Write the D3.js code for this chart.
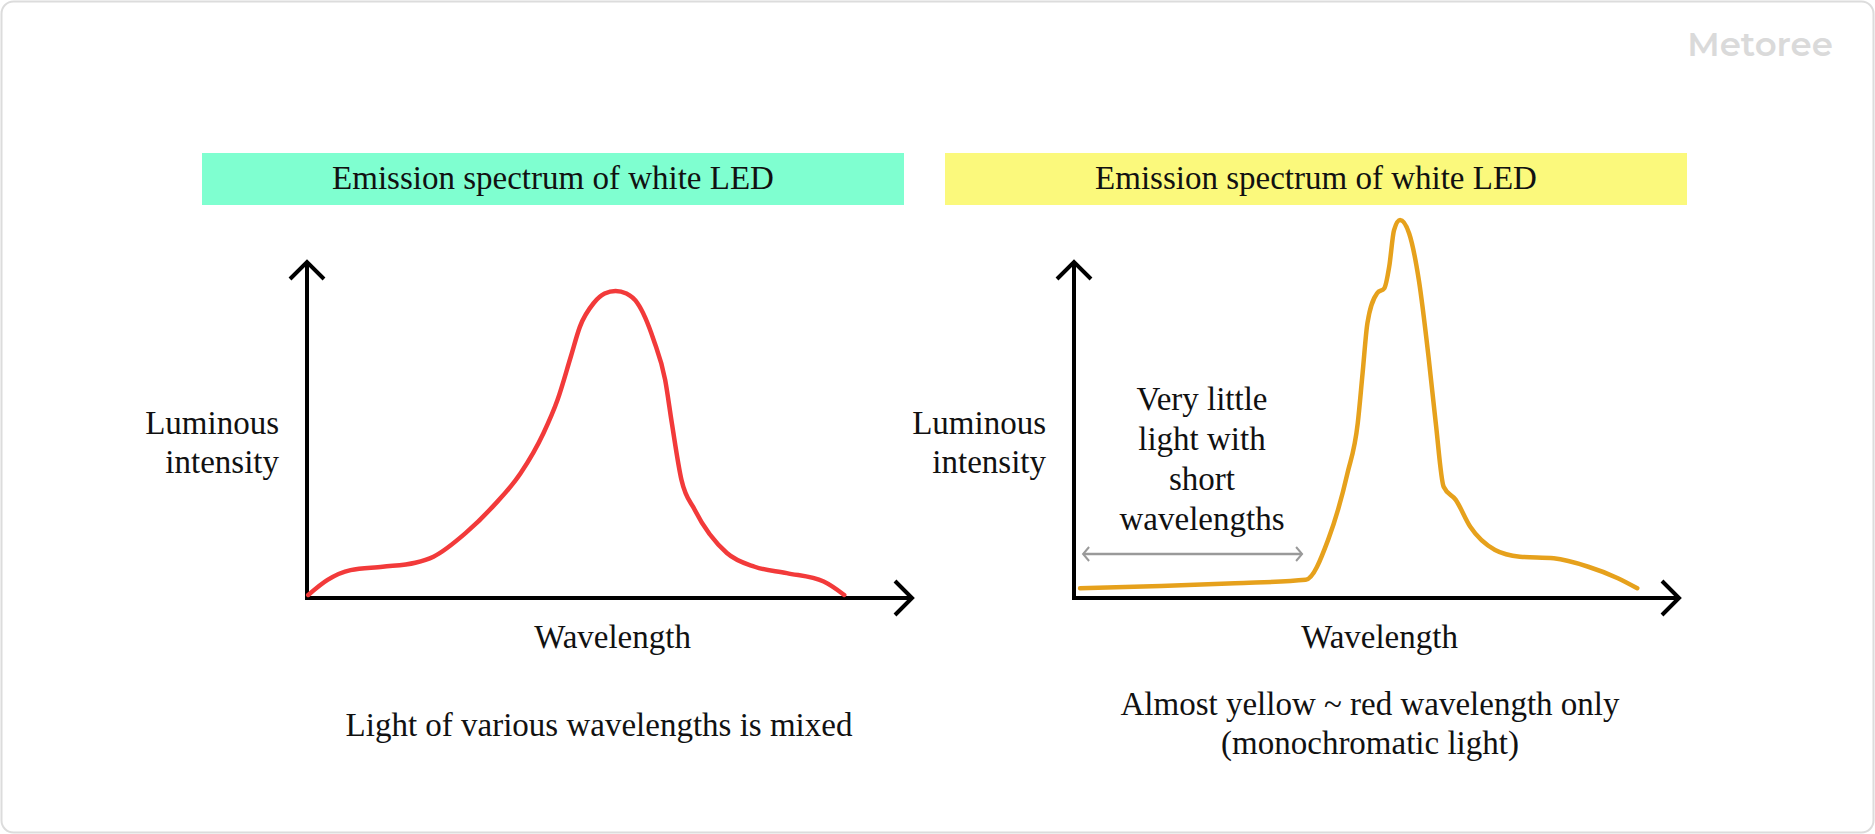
<!DOCTYPE html>
<html>
<head>
<meta charset="utf-8">
<script src="https://cdn.jsdelivr.net/npm/d3@7"></script>
<style>
  body { margin: 0; background: #fff; }
  svg { display: block; }
  text { font-family: "Liberation Serif", "Times New Roman", serif; fill: #111; }
</style>
</head>
<body>
<svg id="svg-board"></svg>
<script>
// panel headers and captions
const panelTitles = ["Emission spectrum of white LED", "Emission spectrum of white LED"];
const axisYLabel = ["Luminous", "intensity"];
const axisXLabel = "Wavelength";
const captionsLeft = ["Light of various wavelengths is mixed"];
const captionsRight = ["Almost yellow ~ red wavelength only", "(monochromatic light)"];
const noteRight = ["Very little", "light with", "short", "wavelengths"];

// curves (x: % of axis length, y: % of axis height)
const waveLeft = [0.2, 3.4, 7.2, 12.5, 17.9, 20.9, 26.2, 30.7, 35.3, 39.1, 41.4, 43.6, 45.1, 47.4,
                  49.2, 51.0, 52.8, 54.6, 57.3, 59.2, 60.3, 61.9, 64.1, 69.4, 74.0, 79.3, 85.4, 88.8];
const intensityLeft = [0.9, 5.4, 8.3, 9.3, 10.5, 12.3, 19.3, 27.2, 37.1, 49.1, 58.9, 71.8, 80.7, 87.8,
                       90.6, 91.4, 90.6, 87.8, 76.8, 64.9, 52.1, 35.1, 26.2, 13.4, 9.3, 7.4, 4.9, 0.9];

const waveRight = [1.0, 14.4, 26.6, 38.3, 42.0, 45.2, 46.9, 47.7, 48.5, 50.1, 51.3, 52.1, 52.9, 53.9,
                   55.4, 57.0, 58.6, 59.8, 61.1, 63.1, 65.5, 69.6, 73.7, 79.3, 85.0, 89.9, 93.1];
const intensityRight = [2.9, 3.6, 4.4, 5.4, 17.3, 37.1, 52.0, 66.9, 81.8, 90.7, 92.2, 98.6, 109.5, 112.5,
                        108.5, 94.6, 71.8, 52.0, 33.1, 29.2, 21.2, 14.3, 12.3, 11.8, 9.3, 5.9, 2.9];

// the "short wavelengths" span on the right panel
const shortSpan = [1.5, 37.7];
const shortSpanLevel = 13.1;

const boardWidth = 1875;
const boardHeight = 834;

let svgBoard = d3.select("#svg-board")
    .attr("width", boardWidth)
    .attr("height", boardHeight);

// outer frame
svgBoard.append("rect")
    .attr("x", 1.5).attr("y", 1.5)
    .attr("width", boardWidth - 3).attr("height", boardHeight - 3)
    .attr("rx", 12)
    .attr("fill", "#fff")
    .attr("stroke", "#dcdcdc")
    .attr("stroke-width", 2);

svgBoard.append("text")
    .attr("x", 1760).attr("y", 56)
    .attr("text-anchor", "middle")
    .style("font-family", "Montserrat, 'Open Sans', sans-serif")
    .style("font-weight", 600)
    .style("font-size", "34px")
    .style("fill", "#dadada")
    .text("Metoree");

function drawArrowHead(g, x, y, dir, size, color, width) {
    // open chevron; dir: "up" or "right"
    let pts;
    if (dir === "up") pts = [[x - size, y + size], [x, y], [x + size, y + size]];
    else pts = [[x - size, y - size], [x, y], [x - size, y + size]];
    g.append("path")
        .attr("d", d3.line()(pts))
        .attr("fill", "none")
        .attr("stroke", color)
        .attr("stroke-width", width)
        .attr("stroke-linejoin", "miter");
}

function buildPanel(offset, opts) {
    let xScale = d3.scaleLinear().domain([0, 100]).range([307 + offset, 912 + offset]);
    let yScale = d3.scaleLinear().domain([0, 100]).range([598, 262]);
    let g = svgBoard.append("g");

    // header bar
    g.append("rect")
        .attr("x", opts.barX[0]).attr("y", 153)
        .attr("width", opts.barX[1] - opts.barX[0]).attr("height", 52)
        .attr("fill", opts.barColor);
    g.append("text")
        .attr("x", (opts.barX[0] + opts.barX[1]) / 2).attr("y", 189)
        .attr("text-anchor", "middle")
        .style("font-size", "33px")
        .text(opts.title);

    // axes
    const [x0, x1] = xScale.range();
    const [y0, y1] = yScale.range();
    g.append("path")
        .attr("d", d3.line()([[x0, y1 + 2], [x0, y0], [x1 - 2, y0]]))
        .attr("fill", "none")
        .attr("stroke", "#000")
        .attr("stroke-width", 4);
    drawArrowHead(g, x0, y1, "up", 17, "#000", 4);
    drawArrowHead(g, x1, y0, "right", 17, "#000", 4);

    // axis labels
    g.selectAll(".ylab")
        .data(axisYLabel)
        .enter().append("text")
        .attr("class", "ylab")
        .attr("x", x0 - 28)
        .attr("y", (d, i) => 434 + i * 39)
        .attr("text-anchor", "end")
        .style("font-size", "33px")
        .text(d => d);
    g.append("text")
        .attr("x", xScale(50.5)).attr("y", 648)
        .attr("text-anchor", "middle")
        .style("font-size", "33px")
        .text(axisXLabel);

    // curve
    const pts = opts.wave.map((w, i) => [w, opts.intensity[i]]);
    g.append("path")
        .datum(pts)
        .attr("d", d3.line()
            .x(d => xScale(d[0]))
            .y(d => yScale(d[1]))
            .curve(d3.curveMonotoneX))
        .attr("fill", "none")
        .attr("stroke", opts.lineColor)
        .attr("stroke-width", 4.5)
        .attr("stroke-linecap", "round")
        .attr("stroke-linejoin", "round");

    // captions
    g.selectAll(".cap")
        .data(opts.captions)
        .enter().append("text")
        .attr("class", "cap")
        .attr("x", opts.captionX)
        .attr("y", (d, i) => opts.captionY + i * 39)
        .attr("text-anchor", "middle")
        .style("font-size", "33px")
        .text(d => d);

    return { g, xScale, yScale };
}

buildPanel(0, {
    barX: [202, 904], barColor: "#7fffd0", title: panelTitles[0],
    wave: waveLeft, intensity: intensityLeft, lineColor: "#f23a3a",
    captions: captionsLeft, captionX: 599, captionY: 736
});

let right = buildPanel(767, {
    barX: [945, 1687], barColor: "#fbf97c", title: panelTitles[1],
    wave: waveRight, intensity: intensityRight, lineColor: "#e6a11c",
    captions: captionsRight, captionX: 1370, captionY: 715
});

// short-wavelength note with double arrow
const sx0 = right.xScale(shortSpan[0]);
const sx1 = right.xScale(shortSpan[1]);
const sy = right.yScale(shortSpanLevel);
right.g.append("line")
    .attr("x1", sx0).attr("y1", sy).attr("x2", sx1).attr("y2", sy)
    .attr("stroke", "#9a9a9a").attr("stroke-width", 2.5);
right.g.append("path")
    .attr("d", d3.line()([[sx0 + 6, sy - 7], [sx0, sy], [sx0 + 6, sy + 7]]))
    .attr("fill", "none").attr("stroke", "#9a9a9a").attr("stroke-width", 2);
right.g.append("path")
    .attr("d", d3.line()([[sx1 - 6, sy - 7], [sx1, sy], [sx1 - 6, sy + 7]]))
    .attr("fill", "none").attr("stroke", "#9a9a9a").attr("stroke-width", 2);

right.g.selectAll(".note")
    .data(noteRight)
    .enter().append("text")
    .attr("class", "note")
    .attr("x", 1202)
    .attr("y", (d, i) => 410 + i * 40)
    .attr("text-anchor", "middle")
    .style("font-size", "33px")
    .text(d => d);
</script>
</body>
</html>
